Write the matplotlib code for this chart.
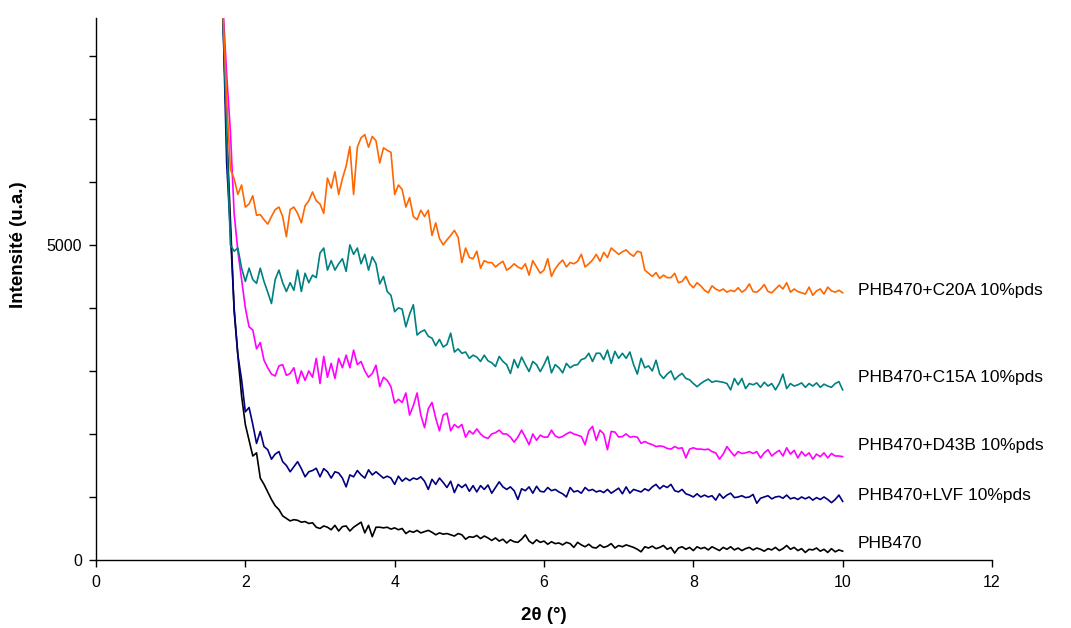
import numpy as np
import matplotlib
matplotlib.use("Agg")
import matplotlib.pyplot as plt

plt.rcParams['font.family'] = ['Liberation Sans', 'DejaVu Sans']

# ---------------- data ----------------
x_start = 1.65
x_step = 0.05

phb470 = [10500, 8600, 6800, 5400, 3950, 3250, 2600,
          2150, 1900, 1650, 1700, 1300, 1200, 1080, 960, 860, 800, 700, 660, 620, 640, 630, 600, 610, 580, 590, 520,
          500, 540, 520, 480, 550, 460, 530, 540, 460, 520, 560, 600, 430, 550, 370, 520, 520, 510, 520, 490,
          510, 480, 500, 420, 460, 440, 470, 430, 450, 470, 440, 400, 430, 410, 420, 400, 380, 420, 400, 330,
          370, 360, 390, 340, 380, 350, 310, 350, 300, 330, 270, 320, 290, 280, 330, 400, 300, 260, 320, 280,
          300, 250, 290, 260, 270, 240, 280, 260, 200, 280, 240, 210, 250, 200, 190, 240, 200, 220, 260, 190,
          230, 210, 240, 220, 200, 170, 130, 210, 190, 220, 180, 200, 230, 170, 200, 110, 190, 210, 170, 200,
          150, 210, 180, 200, 160, 210, 180, 150, 200, 170, 210, 160, 190, 150, 180, 200, 160, 190, 170, 140,
          180, 160, 200, 150, 180, 230, 170, 200, 150, 180, 120, 170, 160, 190, 140, 170, 120, 180, 130, 160,
          140]

lvf = [10500, 8650, 6300, 5200, 4000, 3250, 2860,
       2350, 2420, 2150, 1850, 2040, 1800, 1750, 1600, 1680, 1720, 1560, 1500, 1400, 1480, 1560, 1450, 1320, 1400, 1420, 1455,
       1320, 1450, 1400, 1300, 1400, 1380, 1300, 1160, 1350, 1320, 1420, 1350, 1300, 1430, 1350, 1400, 1350, 1300, 1330, 1300,
       1200, 1330, 1250, 1300, 1260, 1300, 1280, 1320, 1250, 1120, 1280, 1200, 1300, 1230, 1150, 1250, 1070, 1200, 1150, 1200,
       1090, 1180, 1080, 1180, 1120, 1190, 1060, 1150, 1240, 1160, 1120, 1160, 1100, 960, 1130, 1100, 1160, 1060, 1170, 1090,
       1080, 1150, 1100, 1120, 1080, 1050, 1000, 1150, 1080, 1100, 1060, 1150, 1100, 1120, 1080, 1100, 1070, 1120, 1060, 1100,
       1140, 1050, 1160, 1060, 1120, 1100, 1080, 1130, 1100, 1160, 1200, 1130, 1180, 1150, 1200, 1100, 1080, 1120, 1050, 1030,
       1000, 1050, 1000, 1030, 1000, 1020, 950, 1050, 980, 1030, 1060, 990, 1000, 1020, 990, 1000, 1040, 900, 980, 1000,
       1020, 970, 1000, 1010, 980, 1030, 970, 990, 960, 1000, 970, 1000, 950, 990, 960, 1000, 960, 910, 960, 1030,
       930]

d43b = [10500, 8800, 7700, 6800, 5500, 4900, 4450,
        4000, 3700, 3650, 3350, 3450, 3170, 3050, 2950, 2920, 3080, 3100, 2930, 2960, 3050, 2800, 3000, 2850, 3000, 2900, 3200,
        2800, 3230, 2900, 3120, 2880, 3200, 3050, 3250, 3050, 3330, 3100, 3150, 3000, 2900, 2960, 3090, 2750, 2900, 2850, 2750,
        2490, 2550, 2500, 2650, 2300, 2450, 2650, 2300, 2100, 2400, 2500, 2250, 2050, 2300, 2330, 2050, 2150, 2100, 2150, 1950,
        2050, 2000, 2080, 2000, 1950, 1930, 2000, 2020, 2060, 2000, 2000, 1950, 1870, 1950, 2060, 1950, 1830, 2000, 1900, 1980,
        1950, 1950, 2060, 1970, 1940, 1960, 2000, 2030, 2000, 1980, 1960, 1830, 2050, 2120, 1900, 2060, 2000, 1750, 2040, 2030,
        1950, 1960, 2000, 1950, 1960, 1950, 1850, 1880, 1850, 1830, 1800, 1810, 1800, 1770, 1760, 1800, 1770, 1780, 1620, 1760,
        1780, 1760, 1760, 1750, 1760, 1720, 1700, 1600, 1680, 1800, 1720, 1650, 1720, 1690, 1700, 1720, 1690, 1720, 1620, 1700,
        1750, 1650, 1700, 1740, 1650, 1780, 1680, 1740, 1620, 1720, 1650, 1700, 1600, 1680, 1640, 1700, 1620, 1690, 1650, 1650,
        1640]

c15a = [10500, 8700, 6800, 5000, 4900, 4950, 4630,
        4420, 4630, 4450, 4390, 4630, 4420, 4250, 4070, 4450, 4600, 4400, 4260, 4400, 4280, 4600, 4260, 4550, 4400, 4520, 4480,
        4870, 4950, 4600, 4750, 4600, 4700, 4780, 4580, 5000, 4850, 4950, 4700, 4850, 4600, 4810, 4700, 4380, 4500, 4260, 4200,
        3940, 4000, 3980, 3700, 3900, 4050, 3570, 3620, 3650, 3550, 3520, 3400, 3500, 3380, 3420, 3600, 3300, 3350, 3280, 3300,
        3200, 3250, 3220, 3150, 3250, 3160, 3130, 3070, 3230, 3150, 3100, 2960, 3180, 3050, 3220, 3100, 2990, 3150, 3100, 2990,
        3100, 3230, 2970, 3100, 3050, 2970, 3120, 3050, 3090, 3100, 3180, 3200, 3280, 3150, 3280, 3280, 3180, 3330, 3120, 3310,
        3200, 3280, 3200, 3300, 3100, 2950, 3200, 3050, 3080, 3000, 3170, 2950, 2880, 2950, 3000, 2860, 2920, 2960, 2880, 2860,
        2800, 2750, 2800, 2840, 2870, 2820, 2840, 2830, 2820, 2800, 2700, 2880, 2780, 2880, 2720, 2800, 2780, 2810, 2740, 2820,
        2760, 2800, 2700, 2800, 2950, 2720, 2800, 2760, 2780, 2810, 2740, 2800, 2760, 2810, 2740, 2790, 2760, 2740, 2800, 2830,
        2700]

c20a = [10500, 8700, 7300, 6200, 6050, 5800, 5950,
        5600, 5650, 5780, 5470, 5480, 5400, 5330, 5450, 5560, 5600, 5450, 5130, 5560, 5600, 5500, 5350, 5620, 5700, 5840, 5700,
        5650, 5500, 6060, 5900, 6160, 5800, 6050, 6250, 6560, 5800, 6550, 6700, 6750, 6550, 6720, 6650, 6300, 6540, 6500, 6470,
        5800, 5950, 5880, 5600, 5750, 5450, 5400, 5550, 5450, 5550, 5150, 5350, 5100, 5000, 5080, 5150, 5230, 5120, 4720, 4950,
        4800, 4780, 4900, 4630, 4750, 4720, 4720, 4650, 4700, 4740, 4600, 4640, 4700, 4650, 4620, 4700, 4520, 4750, 4650, 4550,
        4600, 4780, 4500, 4620, 4700, 4760, 4650, 4720, 4700, 4740, 4850, 4650, 4700, 4760, 4850, 4740, 4880, 4800, 4950, 4900,
        4850, 4890, 4920, 4860, 4820, 4900, 4880, 4600, 4550, 4500, 4560, 4470, 4520, 4480, 4480, 4550, 4400, 4420, 4500, 4380,
        4320, 4400, 4350, 4280, 4240, 4350, 4300, 4270, 4300, 4250, 4280, 4260, 4320, 4250, 4290, 4380, 4260, 4250, 4300, 4370,
        4260, 4240, 4300, 4360, 4300, 4400, 4250, 4300, 4260, 4240, 4220, 4330, 4200, 4270, 4300, 4220, 4330, 4270, 4250, 4280,
        4240]

series_names = ["PHB470", "PHB470+LVF 10%pds", "PHB470+D43B 10%pds",
                "PHB470+C15A 10%pds", "PHB470+C20A 10%pds"]
series_values = [phb470, lvf, d43b, c15a, c20a]
series_colors = ["#000000", "#000080", "#FF00FF", "#008080", "#FF6600"]
label_y = [254, 1030, 1810, 2890, 4270]

xticks = [0, 2, 4, 6, 8, 10, 12]
yticks = [0, 1000, 2000, 3000, 4000, 5000, 6000, 7000, 8000]
ytick_labels = ["0", "", "", "", "", "5000", "", "", ""]

lengths = [len(v) for v in series_values]
if len(set(lengths)) != 1:
    raise ValueError("length mismatch: %s" % lengths)

# ---------------- figure ----------------
fig = plt.figure(figsize=(10.71, 6.28), dpi=100)
ax = fig.add_axes([96 / 1071, 1 - 560 / 628, 896 / 1071, 542 / 628])

draw_order = [4, 3, 2, 0, 1]
for i in draw_order:
    y = np.asarray(series_values[i], dtype=float)
    x = x_start + x_step * np.arange(len(y))
    ax.plot(x, y, color=series_colors[i], lw=1.2, solid_joinstyle='round', zorder=2 + i)

for name, ly in zip(series_names, label_y):
    ax.text(10.2, ly, name, fontsize=12.5, va='center', ha='left', color='black')

ax.set_xlim(0, 12)
ax.set_ylim(0, 8600)
ax.set_xticks(xticks)
ax.set_xticklabels([str(t) for t in xticks])
ax.set_yticks(yticks)
ax.set_yticklabels(ytick_labels)

for s in ['top', 'right']:
    ax.spines[s].set_visible(False)
for s in ['left', 'bottom']:
    ax.spines[s].set_linewidth(1.0)
    ax.spines[s].set_color('black')

ax.tick_params(axis='x', direction='out', length=5, width=1.0, labelsize=11.5, pad=6)
ax.tick_params(axis='y', direction='out', length=5, width=1.0, labelsize=11.5, pad=5)

ax.set_xlabel("2θ (°)", fontsize=13.5, fontweight='bold', labelpad=12)
ax.set_ylabel("Intensité (u.a.)", fontsize=13.5, fontweight='bold')
ax.yaxis.set_label_coords(-0.077, (560 - 245) / 542)

fig.savefig("out.png", dpi=100)
